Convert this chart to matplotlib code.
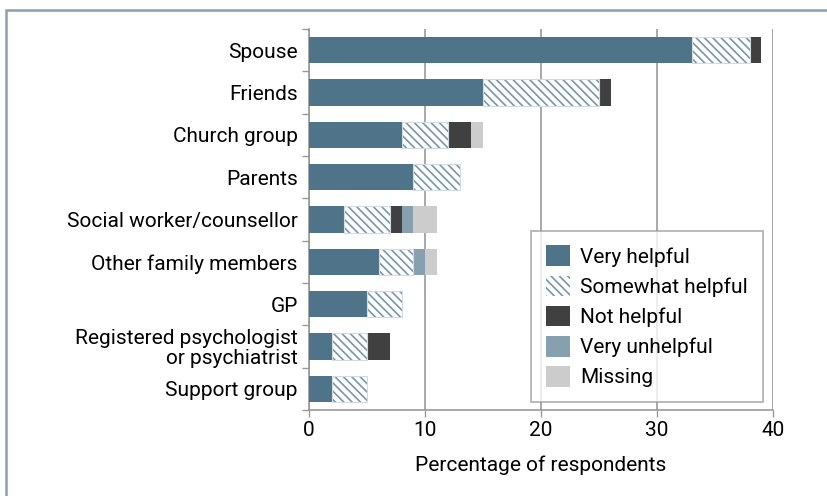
import matplotlib.pyplot as plt
from matplotlib.patches import Rectangle, Patch
import numpy as np

plt.rcParams['font.family'] = ['Roboto', 'DejaVu Sans']
plt.rcParams['hatch.linewidth'] = 1.2

# data (percent of respondents)
categories = ['Spouse', 'Friends', 'Church group', 'Parents', 'Social worker/counsellor',
              'Other family members', 'GP', 'Registered psychologist\nor psychiatrist',
              'Support group']
very_helpful = [33, 15, 8, 9, 3, 6, 5, 2, 2]
somewhat_helpful = [5, 10, 4, 4, 4, 3, 3, 3, 3]
not_helpful = [1, 1, 2, 0, 1, 0, 0, 2, 0]
very_unhelpful = [0, 0, 0, 0, 1, 1, 0, 0, 0]
missing = [0, 0, 1, 0, 2, 1, 0, 0, 0]

series = ['Very helpful', 'Somewhat helpful', 'Not helpful', 'Very unhelpful', 'Missing']
values = [very_helpful, somewhat_helpful, not_helpful, very_unhelpful, missing]
colors = ['#4f7389', 'white', '#404040', '#87a0b0', '#cccccc']
hatch_col = '#7896aa'

fig = plt.figure(figsize=(8.27, 4.96), dpi=100)
ax = fig.add_axes([0.3736, 0.1734, 0.5611, 0.7681])

y = np.arange(len(categories))
left = np.zeros(len(categories))
handles = []
for name, vals, c in zip(series, values, colors):
    vals = np.array(vals, dtype=float)
    if name == 'Somewhat helpful':
        ax.barh(y, vals, left=left, height=0.62, color='white', edgecolor=hatch_col,
                hatch='\\\\\\\\', linewidth=0, zorder=3)
        ax.barh(y, vals, left=left, height=0.62, fill=False, edgecolor='#d0dbe2',
                linewidth=0.8, zorder=4)
        handles.append(Patch(facecolor='white', edgecolor=hatch_col, hatch='\\\\\\\\',
                             linewidth=0, label=name))
    else:
        ax.barh(y, vals, left=left, height=0.62, color=c, linewidth=0, zorder=3)
        handles.append(Patch(facecolor=c, linewidth=0, label=name))
    left += vals

ax.set_xlim(0, 40)
ax.set_ylim(len(categories) - 0.5, -0.5)
ax.set_yticks(y)
ax.set_yticklabels(categories, fontsize=15, linespacing=1.05)
ax.set_yticks(np.arange(-0.5, len(categories)), minor=True)
ax.tick_params(axis='y', which='major', length=0, pad=8)
ax.tick_params(axis='y', which='minor', length=5, color='#999999', width=1)
ax.set_xticks([0, 10, 20, 30, 40])
ax.tick_params(axis='x', labelsize=15, length=5, color='#999999', width=1, pad=3)
ax.set_xlabel('Percentage of respondents', fontsize=15, labelpad=11)

for s in ['top', 'right']:
    ax.spines[s].set_visible(False)
for s in ['left', 'bottom']:
    ax.spines[s].set_color('#999999')
    ax.spines[s].set_linewidth(1.2)

ax.grid(axis='x', color='#999999', linewidth=1.2, zorder=0)
ax.set_axisbelow(True)

leg = ax.legend(handles=handles, loc='lower right', bbox_to_anchor=(0.978, 0.021),
                fontsize=15, frameon=True, fancybox=False, handlelength=1.15,
                handleheight=1.15, labelspacing=0.42, borderpad=0.7, handletextpad=0.5,
                borderaxespad=0)
leg.get_frame().set_edgecolor('#999999')
leg.get_frame().set_linewidth(1.2)

# outer frame (only top and left edges visible in the crop)
fig.patches.append(Rectangle((6 / 827, -0.05), 1.0, 1 - 9.5 / 496 + 0.05, transform=fig.transFigure,
                             fill=False, edgecolor='#8aa0ae', linewidth=1.8))

fig.savefig('out.png', dpi=100)
